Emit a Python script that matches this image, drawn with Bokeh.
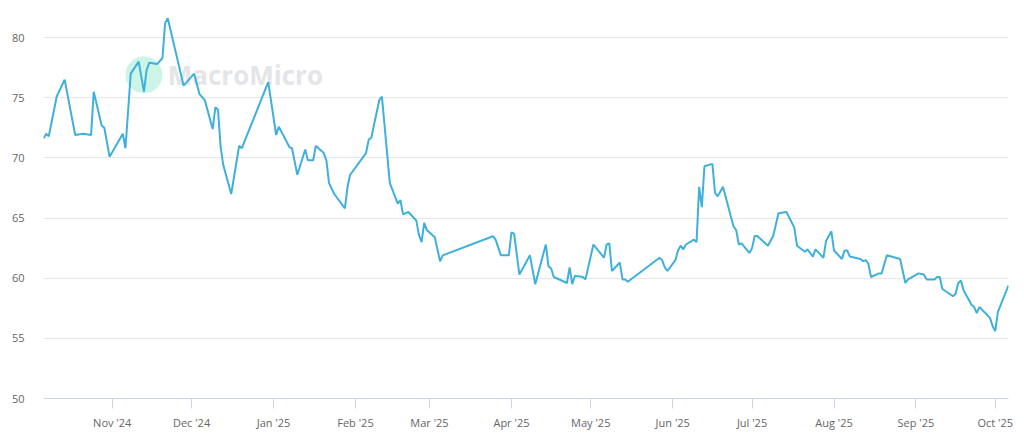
import pandas as pd
from bokeh.plotting import figure
from bokeh.models import DatetimeTickFormatter, MonthsTicker, SingleIntervalTicker, Range1d, Label
from bokeh.embed import file_html
from bokeh.resources import INLINE

dates = [
    "2024-10-06", "2024-10-07", "2024-10-08", "2024-10-11", "2024-10-14", "2024-10-18",
    "2024-10-21", "2024-10-24", "2024-10-25", "2024-10-28", "2024-10-29", "2024-10-31",
    "2024-11-05", "2024-11-06", "2024-11-08", "2024-11-11", "2024-11-13", "2024-11-14",
    "2024-11-15", "2024-11-18", "2024-11-20", "2024-11-21", "2024-11-22", "2024-11-28",
    "2024-12-02", "2024-12-04", "2024-12-06", "2024-12-09", "2024-12-10", "2024-12-11",
    "2024-12-12", "2024-12-13", "2024-12-16", "2024-12-19", "2024-12-20", "2024-12-30",
    "2025-01-02", "2025-01-03", "2025-01-07", "2025-01-08", "2025-01-10", "2025-01-13",
    "2025-01-14", "2025-01-16", "2025-01-17", "2025-01-20", "2025-01-21", "2025-01-22",
    "2025-01-24", "2025-01-28", "2025-01-29", "2025-01-30", "2025-02-05", "2025-02-06",
    "2025-02-07", "2025-02-10", "2025-02-11", "2025-02-14", "2025-02-17", "2025-02-18",
    "2025-02-19", "2025-02-21", "2025-02-24", "2025-02-25", "2025-02-26", "2025-02-27",
    "2025-02-28", "2025-03-03", "2025-03-05", "2025-03-06", "2025-03-24", "2025-03-25",
    "2025-03-26", "2025-03-28", "2025-03-31", "2025-04-01", "2025-04-02", "2025-04-04",
    "2025-04-08", "2025-04-10", "2025-04-14", "2025-04-15", "2025-04-16", "2025-04-17",
    "2025-04-22", "2025-04-23", "2025-04-24", "2025-04-25", "2025-04-28", "2025-04-29",
    "2025-05-02", "2025-05-06", "2025-05-07", "2025-05-08", "2025-05-09", "2025-05-12",
    "2025-05-13", "2025-05-14", "2025-05-15", "2025-05-27", "2025-05-28", "2025-05-29",
    "2025-05-30", "2025-06-02", "2025-06-03", "2025-06-04", "2025-06-05", "2025-06-06",
    "2025-06-09", "2025-06-10", "2025-06-11", "2025-06-12", "2025-06-13", "2025-06-16",
    "2025-06-17", "2025-06-18", "2025-06-20", "2025-06-24", "2025-06-25", "2025-06-26",
    "2025-06-27", "2025-06-30", "2025-07-01", "2025-07-02", "2025-07-03", "2025-07-07",
    "2025-07-09", "2025-07-11", "2025-07-14", "2025-07-17", "2025-07-18", "2025-07-21",
    "2025-07-22", "2025-07-24", "2025-07-25", "2025-07-28", "2025-07-29", "2025-07-31",
    "2025-08-01", "2025-08-04", "2025-08-05", "2025-08-06", "2025-08-07", "2025-08-11",
    "2025-08-12", "2025-08-13", "2025-08-14", "2025-08-15", "2025-08-18", "2025-08-19",
    "2025-08-21", "2025-08-26", "2025-08-28", "2025-08-29", "2025-09-02", "2025-09-04",
    "2025-09-05", "2025-09-08", "2025-09-09", "2025-09-10", "2025-09-11", "2025-09-15",
    "2025-09-16", "2025-09-17", "2025-09-18", "2025-09-19", "2025-09-22", "2025-09-23",
    "2025-09-24", "2025-09-25", "2025-09-29", "2025-09-30", "2025-10-01", "2025-10-02",
    "2025-10-06",
]

values = [
    71.6, 72.0, 71.8, 75.1, 76.5, 71.9,
    72.0, 71.9, 75.5, 72.7, 72.5, 70.1,
    72.0, 70.8, 77.0, 78.0, 75.5, 77.3,
    77.9, 77.8, 78.3, 81.2, 81.6, 76.0,
    77.0, 75.3, 74.8, 72.4, 74.2, 74.0,
    70.9, 69.4, 67.0, 71.0, 70.8, 76.3,
    71.9, 72.6, 70.9, 70.8, 68.6, 70.7,
    69.8, 69.8, 71.0, 70.4, 69.8, 67.9,
    67.0, 65.8, 67.6, 68.6, 70.4, 71.5,
    71.7, 74.8, 75.1, 67.9, 66.2, 66.5,
    65.3, 65.5, 64.8, 63.6, 63.0, 64.6,
    64.0, 63.4, 61.4, 61.9, 63.4, 63.5,
    63.2, 61.9, 61.9, 63.8, 63.7, 60.3,
    61.9, 59.5, 62.8, 61.0, 60.8, 60.1,
    59.6, 60.9, 59.5, 60.2, 60.1, 59.9,
    62.8, 61.7, 62.8, 62.9, 60.6, 61.3,
    59.9, 59.9, 59.7, 61.7, 61.5, 60.9,
    60.6, 61.5, 62.3, 62.7, 62.4, 62.8,
    63.2, 63.0, 67.6, 65.9, 69.3, 69.5,
    67.1, 66.8, 67.6, 64.3, 64.0, 62.8,
    62.9, 62.1, 62.5, 63.5, 63.5, 62.7,
    63.5, 65.4, 65.5, 64.2, 62.7, 62.2,
    62.4, 61.8, 62.4, 61.7, 63.1, 63.9,
    62.3, 61.6, 62.3, 62.3, 61.8, 61.6,
    61.4, 61.5, 61.2, 60.1, 60.4, 60.4,
    61.9, 61.6, 59.6, 59.9, 60.4, 60.3,
    59.9, 59.9, 60.1, 60.1, 59.1, 58.5,
    58.7, 59.6, 59.8, 59.0, 57.8, 57.6,
    57.1, 57.6, 56.7, 56.0, 55.6, 57.2,
    59.4,
]

x = pd.to_datetime(dates)

p = figure(
    width=1016, height=435,
    x_axis_type="datetime",
    output_backend="svg", toolbar_location=None,
    min_border_left=43, min_border_right=8, min_border_top=10, min_border_bottom=37,
)
p.x_range = Range1d(pd.Timestamp("2024-10-06"), pd.Timestamp("2025-10-06"))
p.y_range = Range1d(50, 82.25)
p.outline_line_color = None
p.background_fill_color = "white"
p.border_fill_color = "white"

# watermark (drawn beneath the series)
p.scatter(x=[pd.Timestamp("2024-11-13")], y=[76.9], size=37, marker="circle",
          fill_color="#cdf5e7", line_color=None, level="underlay")
p.add_layout(Label(x=pd.Timestamp("2024-11-22"), y=76.9, text="MacroMicro",
                   text_font="Open Sans", text_font_style="bold", text_font_size="26px",
                   text_color="#e3e5e8", text_baseline="middle", text_align="left",
                   level="underlay"))

p.line(x, values, line_color="#3fb0dc", line_width=2)

# axes
p.xaxis.ticker = MonthsTicker(months=list(range(12)))
p.xaxis.formatter = DatetimeTickFormatter(months="%b '%y", days="%b '%y", years="%b '%y")
p.xaxis.axis_line_color = "#ccd6eb"
p.xaxis.major_tick_line_color = "#ccd6eb"
p.xaxis.major_tick_out = 10
p.xaxis.major_tick_in = 0
p.xaxis.minor_tick_line_color = None
p.xaxis.major_label_standoff = 6
p.xaxis.major_label_text_font = "Open Sans"
p.xaxis.major_label_text_font_size = "11px"
p.xaxis.major_label_text_color = "#666666"

p.yaxis.ticker = SingleIntervalTicker(interval=5)
p.yaxis.axis_line_color = None
p.yaxis.major_tick_line_color = None
p.yaxis.minor_tick_line_color = None
p.yaxis.major_label_standoff = 13
p.yaxis.major_label_text_font = "Open Sans"
p.yaxis.major_label_text_font_size = "11px"
p.yaxis.major_label_text_color = "#666666"

p.xgrid.grid_line_color = None
p.ygrid.grid_line_color = "#e6e6e6"
p.ygrid.ticker = SingleIntervalTicker(interval=5)

open("out.html", "w").write(file_html(p, INLINE))
